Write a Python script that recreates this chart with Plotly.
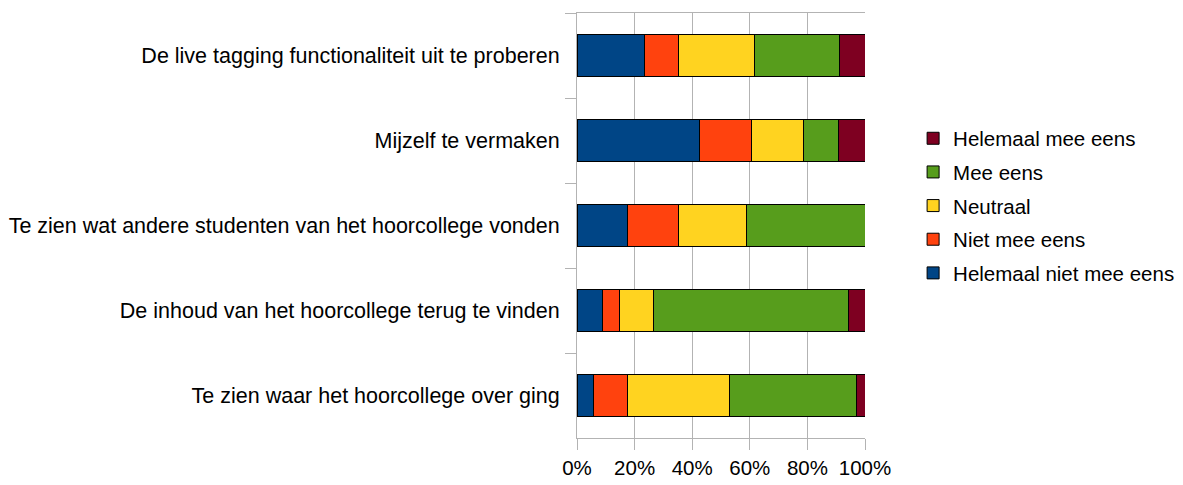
import plotly.graph_objects as go

categories = [
    "De live tagging functionaliteit uit te proberen",
    "Mijzelf te vermaken",
    "Te zien wat andere studenten van het hoorcollege vonden",
    "De inhoud van het hoorcollege terug te vinden",
    "Te zien waar het hoorcollege over ging",
]
# answer counts per category (normalised to percent by the chart)
helemaal_niet_mee_eens = [8, 14, 6, 3, 2]
niet_mee_eens = [4, 6, 6, 2, 4]
neutraal = [9, 6, 8, 4, 12]
mee_eens = [10, 4, 14, 23, 15]
helemaal_mee_eens = [3, 3, 0, 2, 1]

series = [
    ("Helemaal niet mee eens", helemaal_niet_mee_eens, "#004586"),
    ("Niet mee eens", niet_mee_eens, "#ff420e"),
    ("Neutraal", neutraal, "#ffd320"),
    ("Mee eens", mee_eens, "#579d1c"),
    ("Helemaal mee eens", helemaal_mee_eens, "#7e0021"),
]
x_tick_values = [0, 20, 40, 60, 80, 100]
x_tick_labels = ["0%", "20%", "40%", "60%", "80%", "100%"]

FONT = "Liberation Sans, Arial, sans-serif"
GRID = "#b3b3b3"

fig = go.Figure()
n = len(series)
for i, (name, vals, color) in enumerate(series):
    fig.add_trace(go.Bar(
        y=categories, x=vals, name=name, orientation="h",
        marker=dict(color=color, line=dict(color="#000000", width=1)),
        legendgroup=name, legendrank=1000 + (n - i),
    ))

# page body has an 8px margin, so the figure is sized/offset to compensate
fig.update_layout(
    width=1175, height=477,
    barmode="stack", barnorm="percent", bargap=0.5,
    paper_bgcolor="white", plot_bgcolor="white",
    margin=dict(l=569, r=318, t=5, b=47, autoexpand=False),
    font=dict(family=FONT, color="#000000", size=20),
    showlegend=True,
    legend=dict(
        x=1.167, xanchor="left", y=0.546, yanchor="middle",
        traceorder="grouped", tracegroupgap=4,
        font=dict(family=FONT, size=20.5, color="#000000"),
        bgcolor="rgba(0,0,0,0)",
    ),
    xaxis=dict(
        range=[0, 100], tickmode="array", tickvals=x_tick_values, ticktext=x_tick_labels,
        showgrid=True, gridcolor=GRID, gridwidth=1,
        showline=True, linecolor=GRID, linewidth=1, mirror=True,
        ticks="outside", ticklen=11, tickcolor=GRID,
        tickfont=dict(family=FONT, size=20.5, color="#000000"),
        zeroline=False, fixedrange=True,
    ),
    yaxis=dict(
        autorange="reversed", type="category",
        showgrid=False, showline=True, linecolor=GRID, linewidth=1,
        ticks="outside", ticklen=11, tickcolor=GRID, tickson="boundaries",
        ticklabelstandoff=12,
        tickfont=dict(family=FONT, size=21.5, color="#000000"),
        automargin=False, fixedrange=True,
    ),
)

fig.write_html("out.html")
